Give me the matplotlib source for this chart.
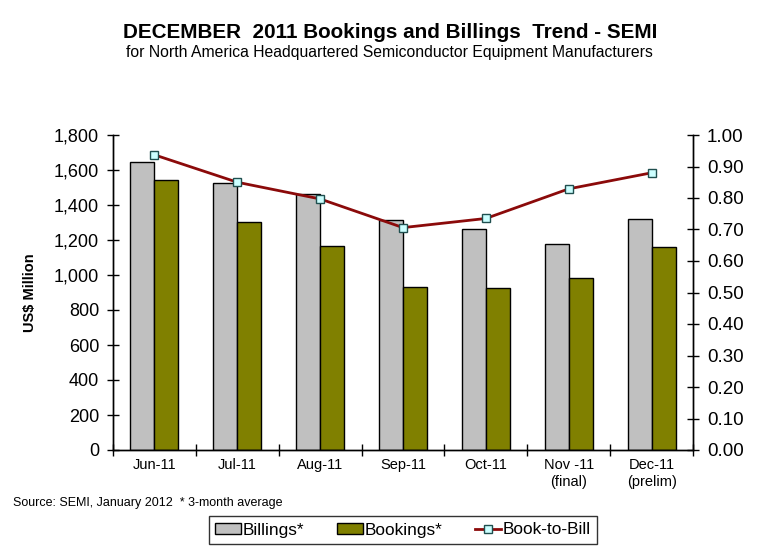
import numpy as np
import matplotlib.pyplot as plt
from matplotlib.ticker import FuncFormatter, FixedLocator

plt.rcParams['font.family'] = ['Liberation Sans', 'DejaVu Sans']

months = ["Jun-11", "Jul-11", "Aug-11", "Sep-11", "Oct-11", "Nov -11\n(final)", "Dec-11\n(prelim)"]
billings = [1646.6, 1525.1, 1463.1, 1315.8, 1262.0, 1174.4, 1321.3]
bookings = [1541.6, 1301.6, 1164.5, 928.9, 926.6, 980.4, 1160.1]
book_to_bill = [0.937, 0.85, 0.797, 0.706, 0.735, 0.829, 0.88]

W, H = 763, 552
fig = plt.figure(figsize=(W / 100, H / 100), dpi=100)
ax = fig.add_axes([113 / W, 1 - 450 / H, (693 - 113) / W, (450 - 135) / H])
ax2 = ax.twinx()

x = np.arange(len(months))
bw = 0.29
ax.bar(x - bw / 2, billings, bw, color="#C0C0C0", edgecolor="black", linewidth=1, label="Billings*", zorder=2)
ax.bar(x + bw / 2, bookings, bw, color="#808000", edgecolor="black", linewidth=1, label="Bookings*", zorder=2)
ax2.plot(x, book_to_bill, color="#8B0A0A", lw=2, marker="s", ms=5.5, mfc="#CCFFFF", mec="#1F4F4F",
         mew=1, label="Book-to-Bill", zorder=3)

ax.set_xlim(-0.5, len(months) - 0.5)
ax.set_ylim(0, 1800)
ax2.set_ylim(0, 1.0)
ax.set_yticks(np.arange(0, 1801, 200))
ax2.set_yticks(np.arange(0, 1.001, 0.1))
ax.yaxis.set_major_formatter(FuncFormatter(lambda v, p: f"{v:,.0f}"))
ax2.yaxis.set_major_formatter(FuncFormatter(lambda v, p: f"{v:.2f}"))

ax.xaxis.set_major_locator(FixedLocator(np.arange(-0.5, len(months), 1.0)))
ax.xaxis.set_minor_locator(FixedLocator(x))
ax.set_xticklabels([], minor=False)
ax.set_xticklabels(months, minor=True, fontsize=10.5)
ax.tick_params(axis="x", which="major", direction="inout", length=8, width=1)
ax.tick_params(axis="x", which="minor", length=0, pad=6)
ax.tick_params(axis="y", direction="inout", length=8, width=1, labelsize=13, pad=6)
ax2.tick_params(axis="y", direction="inout", length=8, width=1, labelsize=13.5, pad=6)

for a in (ax, ax2):
    a.spines["top"].set_visible(False)
    for s in ("left", "right", "bottom"):
        a.spines[s].set_linewidth(1)
ax.set_ylabel("US$ Million", fontsize=10.5, fontweight="bold", labelpad=12)

fig.text(390 / W, 1 - 38 / H, "DECEMBER  2011 Bookings and Billings  Trend - SEMI", ha="center", va="baseline",
         fontsize=14.9, fontweight="bold")
fig.text(389 / W, 1 - 57 / H, "for North America Headquartered Semiconductor Equipment Manufacturers",
         ha="center", va="baseline", fontsize=11.3)
fig.text(13 / W, 1 - 506 / H, "Source: SEMI, January 2012  * 3-month average", ha="left", va="baseline",
         fontsize=9)

h1, l1 = ax.get_legend_handles_labels()
h2, l2 = ax2.get_legend_handles_labels()
leg = fig.legend(h1 + h2, l1 + l2, loc="center", bbox_to_anchor=(403 / W, 1 - 530 / H), ncol=3,
                 fontsize=12.4, frameon=True, fancybox=False, edgecolor="black", handlelength=1.5,
                 handleheight=0.55, handletextpad=0.1, columnspacing=1.9, borderpad=0.35,
                 borderaxespad=0)
leg.get_frame().set_linewidth(1)

fig.savefig("out.png", dpi=100)
